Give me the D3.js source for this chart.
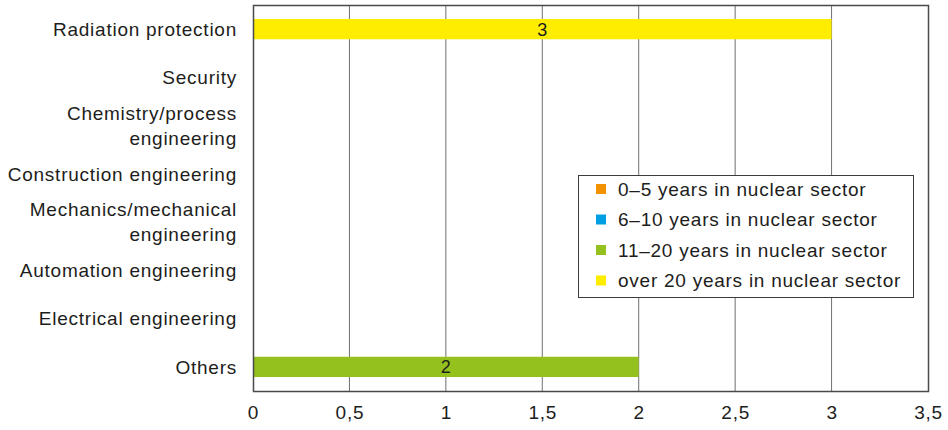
<!DOCTYPE html>
<html><head><meta charset="utf-8">
<script src="https://cdn.jsdelivr.net/npm/d3@7"></script>
<style>
body{margin:0;background:#fff;}
text{font-family:"Liberation Sans",Arial,sans-serif;fill:#1d1d1b;}
</style></head>
<body><svg id="c" width="948" height="430"></svg>
<script>
const categories = [["Radiation protection"],["Security"],["Chemistry/process","engineering"],["Construction engineering"],["Mechanics/mechanical","engineering"],["Automation engineering"],["Electrical engineering"],["Others"]];
const seriesNames = ["0–5 years in nuclear sector","6–10 years in nuclear sector","11–20 years in nuclear sector","over 20 years in nuclear sector"];
const seriesColors = ["#f39200","#009fe3","#95c11f","#ffed00"];
const years0to5   = [0,0,0,0,0,0,0,0];
const years6to10  = [0,0,0,0,0,0,0,0];
const years11to20 = [0,0,0,0,0,0,0,2];
const yearsOver20 = [3,0,0,0,0,0,0,0];
const xTicks = [0,0.5,1,1.5,2,2.5,3,3.5];

const series = [years0to5,years6to10,years11to20,yearsOver20];
const svg = d3.select("#c");
const L=253,R=928,T=5,B=391;
const FS="19px", LS="0.75px";
const x = d3.scaleLinear().domain([0,3.5]).range([L,R]);
const y = d3.scaleBand().domain(d3.range(categories.length)).range([T,B]).paddingInner(0.58).paddingOuter(0.29);

// gridlines
svg.append("g").selectAll("line").data(xTicks.slice(1,-1)).join("line")
  .attr("x1",d=>x(d)).attr("x2",d=>x(d)).attr("y1",T).attr("y2",B)
  .attr("stroke","#6f6f6f").attr("stroke-width",1);

// stacked bars
const stackData = categories.map((c,i)=>{const o={i}; series.forEach((s,k)=>o[k]=s[i]); return o;});
const stacked = d3.stack().keys(d3.range(series.length))(stackData);
stacked.forEach((layer,k)=>{
  const g = svg.append("g");
  layer.forEach((seg,i)=>{
    const v = seg[1]-seg[0];
    if(v<=0) return;
    g.append("rect").attr("x",x(seg[0])).attr("width",x(seg[1])-x(seg[0]))
      .attr("y",y(i)).attr("height",y.bandwidth()).attr("fill",seriesColors[k]);
    g.append("text").attr("x",(x(seg[0])+x(seg[1]))/2).attr("y",y(i)+y.bandwidth()/2)
      .attr("dy","0.36em").attr("text-anchor","middle").style("font-size","18px").text(v);
  });
});

// frame
svg.append("rect").attr("x",L+0.5).attr("y",T+0.5).attr("width",R-L).attr("height",B-T)
  .attr("fill","none").attr("stroke","#4a4a4a").attr("stroke-width",1.5);

// x axis labels
const xa = svg.append("g").attr("transform",`translate(0,${B})`)
  .call(d3.axisBottom(x).tickValues(xTicks).tickSize(0).tickPadding(15).tickFormat(d=>String(d).replace(".",",")));
xa.select(".domain").remove();
xa.selectAll("text").style("font-size",FS).style("letter-spacing",LS).style("font-family","'Liberation Sans',Arial,sans-serif").attr("fill","#1d1d1b");

// y labels
const yl = svg.append("g");
categories.forEach((lines,i)=>{
  const cy = y(i)+y.bandwidth()/2;
  const n = lines.length, lh = 25;
  lines.forEach((ln,j)=>{
    yl.append("text").attr("x",237).attr("y",cy+(j-(n-1)/2)*lh).attr("dy","0.36em")
      .attr("text-anchor","end").style("font-size",FS).style("letter-spacing",LS).text(ln);
  });
});

// legend
const lg = svg.append("g");
lg.append("rect").attr("x",578.5).attr("y",175.5).attr("width",335).attr("height",122)
  .attr("fill","#fff").attr("stroke","#3c3c3c").attr("stroke-width",1);
seriesNames.forEach((nm,k)=>{
  const cy = 189 + k*30.5;
  lg.append("rect").attr("x",596).attr("y",cy-5).attr("width",10).attr("height",10).attr("fill",seriesColors[k]);
  lg.append("text").attr("x",618).attr("y",cy).attr("dy","0.36em").style("font-size",FS).style("letter-spacing",LS).text(nm);
});
</script></body></html>
